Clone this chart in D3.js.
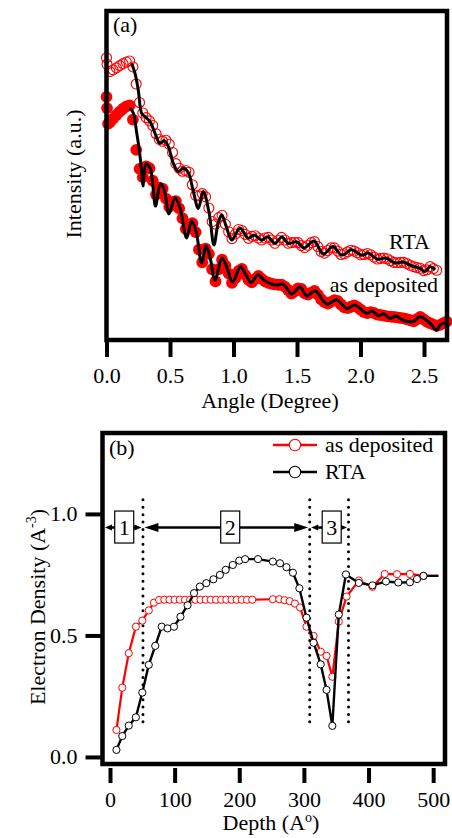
<!DOCTYPE html>
<html>
<head>
<meta charset="utf-8">
<script src="https://cdn.jsdelivr.net/npm/d3@7"></script>
<style>
  body { margin: 0; background: #fff; }
  svg { display: block; }
</style>
</head>
<body>
<svg id="chart" width="452" height="838"></svg>
<script>
// ---------- (a) X-ray reflectivity: log intensity (a.u.) vs angle (deg) ----------
const angleTicks = [0, 0.5, 1.0, 1.5, 2.0, 2.5];

// RTA sample, measured (open circles)
const rtaMeasAngle = [0.000, 0.004, 0.026, 0.052, 0.078, 0.104, 0.130, 0.156, 0.182, 0.208, 0.234, 0.260, 0.286, 0.312, 0.338, 0.364, 0.390, 0.416, 0.442, 0.468, 0.494, 0.520, 0.546, 0.572, 0.598, 0.624, 0.650, 0.676, 0.702, 0.728, 0.754, 0.780, 0.806, 0.832, 0.858, 0.884, 0.910, 0.936, 0.962, 0.988, 1.014, 1.040, 1.066, 1.092, 1.118, 1.144, 1.170, 1.196, 1.222, 1.248, 1.274, 1.300, 1.326, 1.352, 1.378, 1.404, 1.430, 1.456, 1.482, 1.508, 1.534, 1.560, 1.586, 1.612, 1.638, 1.664, 1.690, 1.716, 1.742, 1.768, 1.794, 1.820, 1.846, 1.872, 1.898, 1.924, 1.950, 1.976, 2.002, 2.028, 2.054, 2.080, 2.106, 2.132, 2.158, 2.184, 2.210, 2.236, 2.262, 2.288, 2.314, 2.340, 2.366, 2.392, 2.418, 2.444, 2.470, 2.496, 2.522, 2.548, 2.574, 2.600];
const rtaMeasI = [8.58, 8.38, 8.16, 8.21, 8.27, 8.34, 8.40, 8.45, 8.48, 8.30, 7.78, 7.22, 6.90, 6.76, 6.66, 6.52, 6.27, 6.10, 6.04, 6.07, 5.95, 5.70, 5.36, 5.22, 5.13, 5.15, 5.10, 4.72, 4.40, 4.38, 4.45, 4.35, 4.01, 3.60, 3.52, 3.72, 3.79, 3.52, 3.29, 3.08, 3.22, 3.36, 3.33, 3.21, 3.09, 3.15, 3.17, 3.10, 3.04, 3.10, 3.12, 3.04, 2.94, 3.03, 3.12, 3.04, 2.94, 2.96, 2.97, 2.96, 2.87, 2.81, 2.88, 2.96, 2.99, 2.84, 2.69, 2.64, 2.72, 2.80, 2.80, 2.70, 2.60, 2.62, 2.68, 2.73, 2.70, 2.65, 2.59, 2.60, 2.63, 2.59, 2.52, 2.46, 2.48, 2.49, 2.47, 2.41, 2.36, 2.35, 2.36, 2.36, 2.32, 2.27, 2.23, 2.20, 2.18, 2.11, 2.13, 2.23, 2.17, 2.12];

// RTA sample, fit (black line)
const rtaFitAngle = [0.198, 0.224, 0.250, 0.277, 0.303, 0.343, 0.382, 0.421, 0.453, 0.487, 0.526, 0.565, 0.605, 0.644, 0.681, 0.723, 0.762, 0.807, 0.846, 0.878, 0.907, 0.941, 0.986, 1.051, 1.117, 1.161, 1.222, 1.268, 1.327, 1.380, 1.431, 1.500, 1.555, 1.634, 1.707, 1.783, 1.852, 1.929, 2.009, 2.063, 2.130, 2.201, 2.272, 2.335, 2.406, 2.469, 2.508, 2.547, 2.587];
const rtaFitI = [8.41, 8.11, 7.60, 6.89, 6.79, 6.64, 6.28, 5.98, 6.06, 5.88, 5.37, 5.12, 5.22, 5.09, 4.56, 4.00, 4.51, 3.89, 2.89, 3.53, 3.80, 3.47, 3.04, 3.40, 3.09, 3.19, 3.04, 3.14, 2.94, 3.13, 2.94, 2.98, 2.80, 3.01, 2.61, 2.84, 2.58, 2.74, 2.58, 2.64, 2.46, 2.49, 2.34, 2.37, 2.25, 2.18, 2.08, 2.23, 2.13];

// As-deposited sample, measured (filled circles)
const depMeasAngle = [0.000, 0.004, 0.012, 0.026, 0.052, 0.078, 0.104, 0.130, 0.156, 0.182, 0.208, 0.234, 0.260, 0.286, 0.312, 0.338, 0.364, 0.390, 0.416, 0.442, 0.468, 0.494, 0.520, 0.546, 0.572, 0.598, 0.624, 0.650, 0.676, 0.702, 0.728, 0.754, 0.780, 0.806, 0.832, 0.858, 0.884, 0.910, 0.936, 0.962, 0.988, 1.014, 1.040, 1.066, 1.092, 1.118, 1.144, 1.170, 1.196, 1.222, 1.248, 1.274, 1.300, 1.326, 1.352, 1.378, 1.404, 1.430, 1.456, 1.482, 1.508, 1.534, 1.560, 1.586, 1.612, 1.638, 1.664, 1.690, 1.716, 1.742, 1.768, 1.794, 1.820, 1.846, 1.872, 1.898, 1.924, 1.950, 1.976, 2.002, 2.028, 2.054, 2.080, 2.106, 2.132, 2.158, 2.184, 2.210, 2.236, 2.262, 2.288, 2.314, 2.340, 2.366, 2.392, 2.418, 2.444, 2.470, 2.496, 2.522, 2.548, 2.574, 2.600, 2.626, 2.652, 2.678];
const depMeasI = [7.39, 7.05, 6.57, 6.62, 6.73, 6.84, 6.94, 7.03, 7.10, 7.13, 6.70, 5.78, 5.20, 4.95, 5.28, 5.22, 4.84, 4.42, 4.63, 4.60, 4.30, 4.05, 4.20, 4.22, 4.00, 3.70, 3.38, 3.45, 3.55, 3.28, 2.75, 2.36, 2.78, 2.62, 2.15, 1.78, 2.15, 2.44, 2.26, 2.02, 1.74, 1.88, 2.10, 2.16, 1.98, 1.83, 1.75, 1.86, 1.95, 1.86, 1.78, 1.74, 1.71, 1.69, 1.68, 1.68, 1.62, 1.52, 1.41, 1.48, 1.57, 1.55, 1.42, 1.38, 1.44, 1.49, 1.38, 1.24, 1.15, 1.11, 1.16, 1.21, 1.19, 1.08, 0.99, 0.97, 1.01, 1.05, 1.00, 0.92, 0.85, 0.82, 0.85, 0.82, 0.77, 0.76, 0.74, 0.72, 0.71, 0.70, 0.69, 0.67, 0.66, 0.63, 0.60, 0.57, 0.63, 0.70, 0.63, 0.56, 0.51, 0.47, 0.43, 0.46, 0.51, 0.56];

// As-deposited sample, fit (black line)
const depFitAngle = [0.185, 0.211, 0.238, 0.258, 0.277, 0.287, 0.311, 0.343, 0.366, 0.386, 0.425, 0.453, 0.492, 0.539, 0.579, 0.631, 0.671, 0.705, 0.750, 0.783, 0.815, 0.854, 0.909, 0.949, 0.992, 1.055, 1.098, 1.138, 1.193, 1.240, 1.287, 1.340, 1.390, 1.458, 1.524, 1.576, 1.642, 1.707, 1.736, 1.813, 1.891, 1.957, 2.049, 2.091, 2.140, 2.181, 2.232, 2.280, 2.337, 2.416, 2.469, 2.547, 2.600, 2.626, 2.665];
const depFitI = [7.05, 6.90, 6.29, 5.78, 5.11, 4.68, 5.35, 5.23, 4.65, 4.07, 4.74, 4.59, 3.83, 4.32, 4.01, 3.10, 3.62, 3.31, 2.34, 2.86, 2.52, 1.82, 2.49, 2.19, 1.76, 2.23, 1.98, 1.75, 1.98, 1.82, 1.72, 1.67, 1.70, 1.40, 1.61, 1.34, 1.50, 1.19, 1.09, 1.22, 0.96, 1.06, 0.81, 0.88, 0.74, 0.80, 0.66, 0.73, 0.60, 0.56, 0.71, 0.51, 0.30, 0.46, 0.52];

// ---------- (b) Electron density profile ----------
const depthTicks = [0, 100, 200, 300, 400, 500];
const densityTicks = [0.0, 0.5, 1.0];

const depDepth = [10, 19, 29, 40, 50, 60, 68, 76, 84, 92, 100, 108, 116, 124, 132, 140, 148, 156, 164, 172, 180, 188, 196, 204, 212, 220, 252, 262, 270, 278, 286, 294, 304, 315, 326, 335, 344, 354, 366, 385, 406, 425, 444, 464, 485];
const depDensity = [0.111, 0.285, 0.427, 0.536, 0.561, 0.603, 0.635, 0.646, 0.647, 0.647, 0.647, 0.647, 0.647, 0.647, 0.647, 0.647, 0.647, 0.647, 0.647, 0.647, 0.647, 0.647, 0.647, 0.647, 0.647, 0.647, 0.649, 0.649, 0.645, 0.641, 0.631, 0.615, 0.536, 0.498, 0.433, 0.416, 0.330, 0.557, 0.660, 0.726, 0.700, 0.753, 0.752, 0.753, 0.745];

const rtaDepth = [10, 19, 29, 40, 50, 60, 70, 80, 89, 99, 109, 120, 130, 139, 149, 160, 170, 179, 190, 200, 209, 229, 252, 263, 273, 283, 293, 304, 315, 326, 335, 344, 354, 365, 385, 406, 427, 446, 464, 475, 485];
const rtaDensity = [0.029, 0.086, 0.129, 0.163, 0.265, 0.379, 0.457, 0.536, 0.529, 0.536, 0.577, 0.624, 0.674, 0.701, 0.715, 0.731, 0.749, 0.770, 0.790, 0.808, 0.814, 0.814, 0.804, 0.797, 0.781, 0.758, 0.694, 0.573, 0.470, 0.381, 0.276, 0.128, 0.586, 0.751, 0.716, 0.706, 0.722, 0.718, 0.719, 0.732, 0.745];

// substrate level continues past the last sampled depth
const substrateDepth = 508;

// layer boundaries (dotted lines) and layer labels
const layerBounds = [51, 309, 369];
const layerNames = ["1", "2", "3"];
const layerLabelDepth = [22, 186, 343];

// ---------- drawing ----------
const RED = "#ff0000";
const FONT = '"Liberation Serif", "Times New Roman", serif';
const svg = d3.select("#chart");
svg.append("rect").attr("width", 452).attr("height", 838).attr("fill", "#fff");

function styleAxis(g) {
  g.attr("font-family", FONT).attr("font-size", 22);
  g.select(".domain").remove();
  g.selectAll(".tick line").attr("stroke", "#000").attr("stroke-width", 4);
  g.selectAll(".tick text").attr("fill", "#000");
}

// ===== panel (a) =====
const xA = d3.scaleLinear().domain([0, 2.681]).range([106.5, 447]);
const yA = d3.scaleLinear().domain([0, 10]).range([340, 11]);
const gA = svg.append("g");
const smooth = d3.line().x(d => xA(d[0])).y(d => yA(d[1])).curve(d3.curveCatmullRom.alpha(0.5));

gA.append("g").selectAll("circle").data(d3.zip(rtaMeasAngle, rtaMeasI)).join("circle")
  .attr("cx", d => xA(d[0])).attr("cy", d => yA(d[1])).attr("r", 5)
  .attr("fill", "none").attr("stroke", RED).attr("stroke-width", 1.1);
gA.append("g").selectAll("circle").data(d3.zip(depMeasAngle, depMeasI)).join("circle")
  .attr("cx", d => xA(d[0])).attr("cy", d => yA(d[1])).attr("r", 5.9)
  .attr("fill", RED);
gA.append("path").datum(d3.zip(rtaFitAngle, rtaFitI)).attr("d", smooth)
  .attr("fill", "none").attr("stroke", "#000").attr("stroke-width", 3);
gA.append("path").datum(d3.zip(depFitAngle, depFitI)).attr("d", smooth)
  .attr("fill", "none").attr("stroke", "#000").attr("stroke-width", 3);

gA.append("rect").attr("x", xA.range()[0]).attr("y", yA.range()[1])
  .attr("width", xA.range()[1] - xA.range()[0]).attr("height", yA.range()[0] - yA.range()[1])
  .attr("fill", "none").attr("stroke", "#000").attr("stroke-width", 4.5);

gA.append("g").attr("transform", `translate(0,${yA.range()[0]})`)
  .call(d3.axisBottom(xA).tickValues(angleTicks).tickFormat(d3.format(".1f")).tickSize(17).tickPadding(10))
  .call(styleAxis);

gA.append("text").attr("x", 270).attr("y", 408).attr("text-anchor", "middle")
  .attr("font-family", FONT).attr("font-size", 22).text("Angle (Degree)");
gA.append("text").attr("transform", "translate(81,174) rotate(-90)").attr("text-anchor", "middle")
  .attr("font-family", FONT).attr("font-size", 22).text("Intensity (a.u.)");
gA.append("text").attr("x", 113).attr("y", 32).attr("font-family", FONT).attr("font-size", 22).text("(a)");
gA.append("text").attr("x", 430).attr("y", 249).attr("text-anchor", "end")
  .attr("font-family", FONT).attr("font-size", 22).text("RTA");
gA.append("text").attr("x", 438).attr("y", 291.5).attr("text-anchor", "end")
  .attr("font-family", FONT).attr("font-size", 22).text("as deposited");

// ===== panel (b) =====
const xB = d3.scaleLinear().domain([-11.6, 518.3]).range([102.5, 445]);
const yB = d3.scaleLinear().domain([-0.029, 1.333]).range([764, 433]);
const gB = svg.append("g");
const poly = d3.line().x(d => xB(d[0])).y(d => yB(d[1]));

// layer boundaries
gB.append("g").selectAll("line").data(layerBounds).join("line")
  .attr("x1", d => xB(d)).attr("x2", d => xB(d))
  .attr("y1", yB(1.058)).attr("y2", yB(0.14))
  .attr("stroke", "#000").attr("stroke-width", 3)
  .attr("stroke-linecap", "round").attr("stroke-dasharray", "0,7.4");

// layer arrows
const arrowY = yB(0.944);
function arrowHead(g, tipX, dir, len, half) {
  g.append("path")
    .attr("d", `M${tipX},${arrowY} L${tipX - dir * len},${arrowY - half} L${tipX - dir * len},${arrowY + half} Z`)
    .attr("fill", "#000");
}
const spans = [[xB.domain()[0], layerBounds[0]], [layerBounds[0], layerBounds[1]], [layerBounds[1], layerBounds[2]]];
const gArr = gB.append("g");
spans.forEach((s, i) => {
  const x0 = xB(s[0]) + (i === 0 ? 2.5 : 1.5), x1 = xB(s[1]) - 1.5;
  const big = i === 1;
  const len = big ? 14 : 7, half = big ? 4.5 : 3;
  gArr.append("line").attr("x1", x0 + len - 1).attr("x2", x1 - len + 1)
    .attr("y1", arrowY).attr("y2", arrowY).attr("stroke", "#000").attr("stroke-width", 2.5);
  arrowHead(gArr, x0, -1, len, half);
  arrowHead(gArr, x1, 1, len, half);
  const cx = xB(layerLabelDepth[i]);
  gArr.append("rect").attr("x", cx - 9.5).attr("y", arrowY - 16.5).attr("width", 19).attr("height", 32)
    .attr("fill", "#fff").attr("stroke", "#000").attr("stroke-width", 1.2);
  gArr.append("text").attr("x", cx).attr("y", arrowY + 7.5).attr("text-anchor", "middle")
    .attr("font-family", FONT).attr("font-size", 22).text(layerNames[i]);
});

// density profiles
const depPts = d3.zip(depDepth, depDensity);
const rtaPts = d3.zip(rtaDepth, rtaDensity);
gB.append("path").datum([...depPts, [substrateDepth, depDensity[depDensity.length - 1]]]).attr("d", poly)
  .attr("fill", "none").attr("stroke", RED).attr("stroke-width", 2.2);
gB.append("g").selectAll("circle").data(depPts).join("circle")
  .attr("cx", d => xB(d[0])).attr("cy", d => yB(d[1])).attr("r", 3.6)
  .attr("fill", "#fff").attr("stroke", RED).attr("stroke-width", 1);
gB.append("path").datum([...rtaPts, [substrateDepth, rtaDensity[rtaDensity.length - 1]]]).attr("d", poly)
  .attr("fill", "none").attr("stroke", "#000").attr("stroke-width", 2.4);
gB.append("g").selectAll("circle").data(rtaPts).join("circle")
  .attr("cx", d => xB(d[0])).attr("cy", d => yB(d[1])).attr("r", 3.6)
  .attr("fill", "#fff").attr("stroke", "#000").attr("stroke-width", 1);

gB.append("rect").attr("x", xB.range()[0]).attr("y", yB.range()[1])
  .attr("width", xB.range()[1] - xB.range()[0]).attr("height", yB.range()[0] - yB.range()[1])
  .attr("fill", "none").attr("stroke", "#000").attr("stroke-width", 4.5);

gB.append("g").attr("transform", `translate(0,${yB.range()[0] + 4})`)
  .call(d3.axisBottom(xB).tickValues(depthTicks).tickFormat(d3.format("d")).tickSize(15).tickPadding(8))
  .call(styleAxis);
gB.append("g").attr("transform", `translate(${xB.range()[0]},0)`)
  .call(d3.axisLeft(yB).tickValues(densityTicks).tickFormat(d3.format(".1f")).tickSize(17).tickPadding(8))
  .call(styleAxis);

const xt = gB.append("text").attr("x", 271).attr("y", 830).attr("text-anchor", "middle")
  .attr("font-family", FONT).attr("font-size", 22);
xt.append("tspan").text("Depth (A");
xt.append("tspan").attr("font-size", 14).attr("dy", -8).text("o");
xt.append("tspan").attr("dy", 8).text(")");

const yt = gB.append("text").attr("transform", "translate(45,607) rotate(-90)").attr("text-anchor", "middle")
  .attr("font-family", FONT).attr("font-size", 22);
yt.append("tspan").text("Electron Density (A");
yt.append("tspan").attr("font-size", 14).attr("dy", -9).text("-3");
yt.append("tspan").attr("dy", 9).text(")");

gB.append("text").attr("x", 109).attr("y", 455).attr("font-family", FONT).attr("font-size", 22).text("(b)");

// legend
const legend = [{ name: "as deposited", color: RED }, { name: "RTA", color: "#000" }];
const lg = gB.append("g").selectAll("g").data(legend).join("g")
  .attr("transform", (d, i) => `translate(0,${445 + i * 27})`);
lg.append("line").attr("x1", 273).attr("x2", 317).attr("stroke", d => d.color).attr("stroke-width", 2.4);
lg.append("circle").attr("cx", 295).attr("r", 5.7).attr("fill", "#fff").attr("stroke", d => d.color).attr("stroke-width", 1.1);
lg.append("text").attr("x", 325).attr("y", 7).attr("font-family", FONT).attr("font-size", 22).text(d => d.name);
</script>
</body>
</html>
